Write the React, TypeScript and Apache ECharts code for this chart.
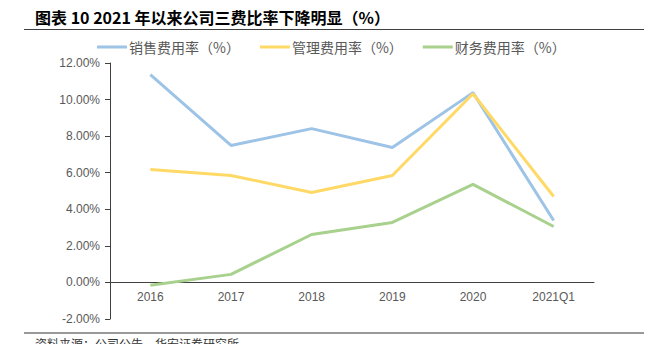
import React, { useEffect, useRef } from "react";
import * as echarts from "echarts";

const categories = ["2016", "2017", "2018", "2019", "2020", "2021Q1"];
const salesRate = [11.37, 7.49, 8.41, 7.38, 10.38, 3.39];
const mgmtRate = [6.17, 5.85, 4.92, 5.85, 10.32, 4.7];
const finRate = [-0.16, 0.44, 2.62, 3.28, 5.36, 3.06];
const seriesNames = ["销售费用率（%）", "管理费用率（%）", "财务费用率（%）"];
const colors = ["#9DC3E6", "#FFD966", "#A9D18E"];

export default function App() {
  const ref = useRef<HTMLDivElement>(null);
  useEffect(() => {
    if (!ref.current) return;
    const chart = echarts.init(ref.current, null, { renderer: "svg" });
    const mk = (name: string, data: number[], color: string) => ({
      name,
      type: "line",
      data,
      symbol: "none",
      lineStyle: { color, width: 3 },
      itemStyle: { color },
    });
    chart.setOption({
      animation: false,
      backgroundColor: "#fff",
      textStyle: { fontFamily: "Arial, 'Liberation Sans', 'Noto Sans CJK SC', sans-serif" },
      graphic: [
        {
          type: "text",
          left: 35,
          top: 9,
          style: {
            text: "图表 10 2021 年以来公司三费比率下降明显（%）",
            font: "bold 16px 'Noto Sans CJK SC', sans-serif",
            fill: "#000",
          },
        },
        {
          type: "rect",
          z: 100,
          shape: { x: 24, y: 29, width: 628, height: 1 },
          style: { fill: "#404040" },
        },
        {
          type: "rect",
          z: 100,
          shape: { x: 24, y: 332, width: 628, height: 2 },
          style: { fill: "#999999" },
        },
        {
          type: "text",
          z: 100,
          left: 35,
          top: 337,
          style: {
            text: "资料来源：公司公告，华安证券研究所",
            font: "12px 'Noto Sans CJK SC', serif",
            fill: "#333",
          },
        },
      ],
      legend: {
        top: 35,
        left: 92,
        itemWidth: 30,
        itemHeight: 3,
        itemGap: 20,
        icon: "rect",
        data: seriesNames,
        textStyle: {
          color: "#595959",
          fontSize: 14,
          fontFamily: "'Noto Sans CJK SC', sans-serif",
          padding: [0, 0, 0, -3],
        },
      },
      grid: { left: 110, right: 58, top: 63, bottom: 33 },
      xAxis: {
        type: "category",
        data: categories,
        boundaryGap: true,
        axisLine: { onZero: true, lineStyle: { color: "#404040", width: 1 } },
        axisTick: { show: false },
        axisLabel: { color: "#595959", fontSize: 12, margin: -28 },
      },
      yAxis: {
        type: "value",
        min: -2,
        max: 12,
        interval: 2,
        splitLine: { show: false },
        axisLine: { show: true, lineStyle: { color: "#404040", width: 1 } },
        axisTick: { show: true, length: 5, lineStyle: { color: "#404040" } },
        axisLabel: {
          color: "#595959",
          fontSize: 12,
          margin: 10,
          formatter: (v: number) => v.toFixed(2) + "%",
        },
      },
      series: [
        mk(seriesNames[0], salesRate, colors[0]),
        mk(seriesNames[1], mgmtRate, colors[1]),
        mk(seriesNames[2], finRate, colors[2]),
      ],
    });
    return () => chart.dispose();
  }, []);
  return <div ref={ref} style={{ width: 652, height: 352, margin: -8 }} />;
}
